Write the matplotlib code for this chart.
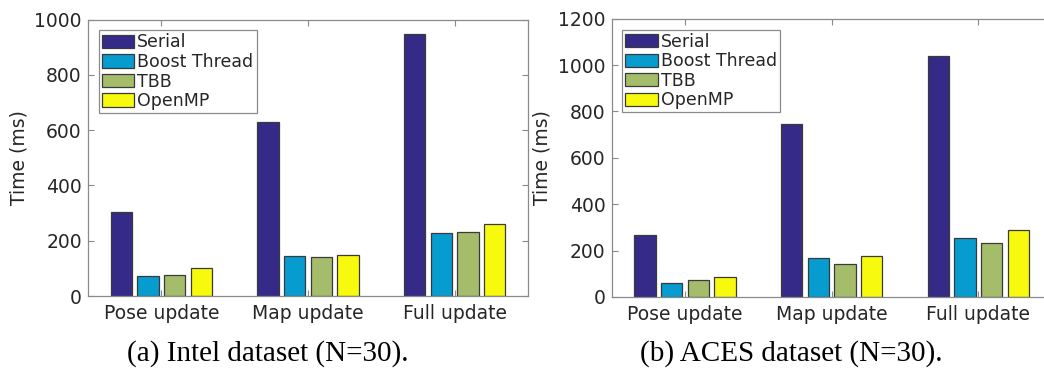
import matplotlib
matplotlib.use("Agg")
import matplotlib.pyplot as plt
import numpy as np

plt.rcParams["font.family"] = ["DejaVu Sans"]

categories = ["Pose update", "Map update", "Full update"]
series = ["Serial", "Boost Thread", "TBB", "OpenMP"]
intel_serial = [305, 630, 948]
intel_boost = [71, 143, 228]
intel_tbb = [76, 142, 232]
intel_openmp = [100, 147, 261]
aces_serial = [269, 745, 1040]
aces_boost = [60, 168, 255]
aces_tbb = [75, 142, 232]
aces_openmp = [88, 176, 289]
intel_yticks = [0, 200, 400, 600, 800, 1000]
aces_yticks = [0, 200, 400, 600, 800, 1000, 1200]
captions = ["(a) Intel dataset (N=30).", "(b) ACES dataset (N=30)."]

colors = ["#352A87", "#069CCF", "#A5BD6A", "#F8FA0D"]
txtc = "#262626"
spc = "#8a8a8a"

W, H = 1044, 371
fig = plt.figure(figsize=(W / 100, H / 100), dpi=100)

def ax_at(x0, y0, x1, y1):
    return fig.add_axes([x0 / W, 1 - y1 / H, (x1 - x0) / W, (y1 - y0) / H])

panels = [
    (ax_at(88, 19.5, 528, 296), [intel_serial, intel_boost, intel_tbb, intel_openmp], intel_yticks),
    (ax_at(611.7, 18.7, 1051.7, 297), [aces_serial, aces_boost, aces_tbb, aces_openmp], aces_yticks),
]

x = np.arange(1, len(categories) + 1)
step = 0.182
bw = 0.145
for ax, data, yt in panels:
    for i, (vals, c, name) in enumerate(zip(data, colors, series)):
        ax.bar(x + (i - 1.5) * step, vals, width=bw, color=c, edgecolor="#3a3a3a",
               linewidth=0.9, label=name, zorder=2)
    ax.set_xlim(0.5, 3.5)
    ax.set_ylim(yt[0], yt[-1])
    ax.set_yticks(yt)
    ax.set_xticks(x)
    ax.set_xticklabels(categories)
    ax.tick_params(direction="in", top=True, right=True, length=4, width=0.8,
                   color=spc, labelsize=13.5, labelcolor=txtc, pad=4.5)
    ax.tick_params(axis="x", pad=5.5)
    for s in ax.spines.values():
        s.set_color(spc)
        s.set_linewidth(0.9)
    ax.set_ylabel("Time (ms)", fontsize=13.5, color=txtc, labelpad=4.3)
    leg = ax.legend(loc="upper left", bbox_to_anchor=(0.024, 0.961), fontsize=12.5,
                    handlelength=1.85, handleheight=0.8, labelspacing=0.09,
                    handletextpad=0.2, borderpad=0.18, borderaxespad=0,
                    fancybox=False, framealpha=1, edgecolor="#8a8a8a")
    leg.get_frame().set_linewidth(0.9)
    for t in leg.get_texts():
        t.set_color(txtc)

fig.text(268 / W, 1 - 354 / H, captions[0], ha="center", va="center",
         fontsize=21, family="Liberation Serif", color="black")
fig.text(791 / W, 1 - 354 / H, captions[1], ha="center", va="center",
         fontsize=21, family="Liberation Serif", color="black")

fig.savefig("out.png", dpi=100)
